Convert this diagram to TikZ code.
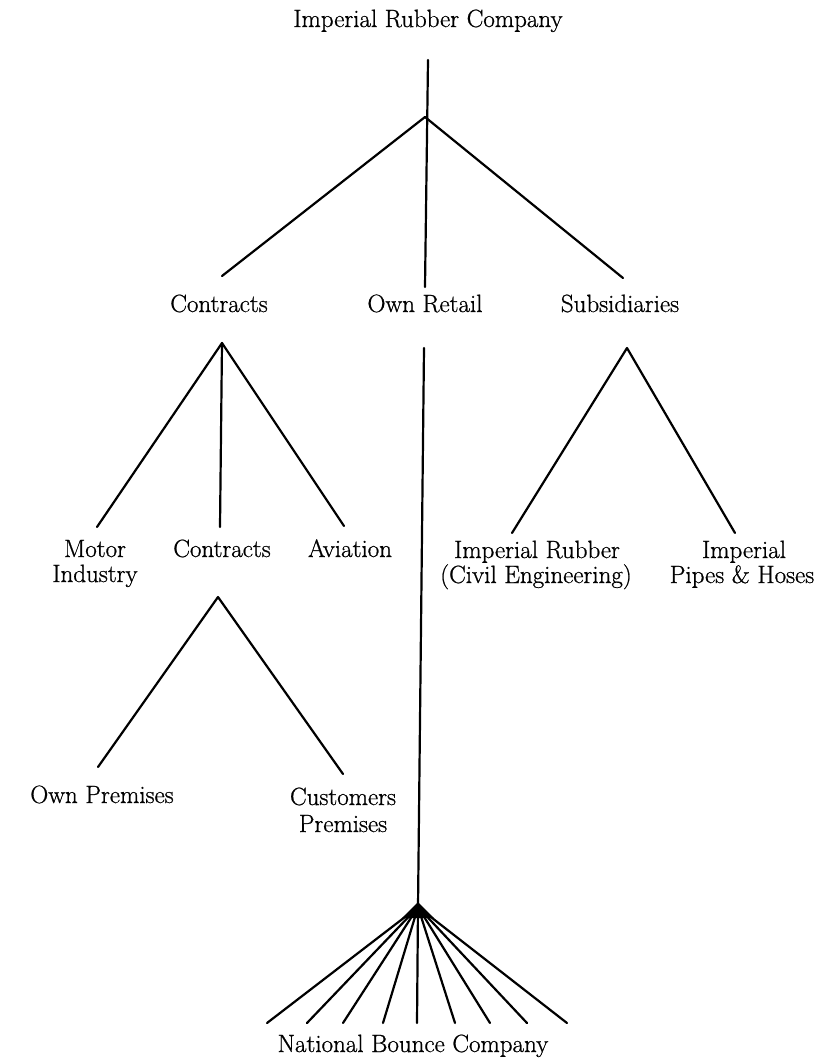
\documentclass[tikz,border=0pt]{standalone}
\usepackage{fontspec}
\newfontfamily\labelfont{Latin Modern Roman}[FakeBold=0.8]
\begin{document}
\begin{tikzpicture}[x=1pt,y=-1pt,
  lbl/.style={font=\labelfont\fontsize{25}{25}\selectfont, anchor=base, inner sep=0pt},
  branch/.style={line width=2.2pt, line cap=round, line join=round}]
\useasboundingbox (0,0) rectangle (836,1058);

% labels
\node[lbl] (irc) at (428,27) {Imperial Rubber Company};
\node[lbl] (contracts) at (219,312) {Contracts};
\node[lbl] (retail) at (425,312) {Own Retail};
\node[lbl] (subs) at (620,312) {Subsidiaries};
\node[lbl] (motor) at (95,557) {Motor};
\node[lbl] (motorB) at (95,582) {Industry};
\node[lbl] (contracts2) at (222,557) {Contracts};
\node[lbl] (aviation) at (350,557) {Aviation};
\node[lbl] (irce) at (537,558) {Imperial Rubber};
\node[lbl] (irceB) at (536,583) {(Civil Engineering)};
\node[lbl] (ipipes) at (744,558) {Imperial};
\node[lbl] (ipipesB) at (742,583) {Pipes \& Hoses};
\node[lbl] (ownprem) at (102,803) {Own Premises};
\node[lbl] (custprem) at (343,805) {Customers};
\node[lbl] (custpremB) at (343,832) {Premises};
\node[lbl] (nbc) at (413,1052) {National Bounce Company};

% branch points and line ends
\coordinate (top) at (428,60);
\coordinate (a0) at (425,117);
\coordinate (e0c) at (222,276);
\coordinate (e0r) at (425,287);
\coordinate (e0s) at (623,278);

\coordinate (aC) at (222,343);
\coordinate (eCm) at (97,527);
\coordinate (eCc) at (220,527);
\coordinate (eCa) at (344,526);

\coordinate (aS) at (627,348);
\coordinate (eSr) at (512,533);
\coordinate (eSp) at (735,533);

\coordinate (aP) at (218,597);
\coordinate (ePo) at (98,767);
\coordinate (ePc) at (343,774);

\coordinate (rTop) at (424,348);
\coordinate (aN) at (418,907);

% top level
\draw[branch] (top) -- (e0r);
\draw[branch] (e0c) -- (a0) -- (e0s);

% contracts
\draw[branch] (eCm) -- (aC) -- (eCa);
\draw[branch] (aC) -- (eCc);

% subsidiaries
\draw[branch] (eSr) -- (aS) -- (eSp);

% premises
\draw[branch] (ePo) -- (aP) -- (ePc);

% own retail down to the bounce company fan
\draw[branch] (rTop) -- (aN);
\fill (418,902) -- (402,918) -- (434,918) -- cycle;
\foreach \x/\n in {267/1,307/2,343/3,383/4,417/5,455/6,490/7,527/8,567/9}{
  \coordinate (f\n) at (\x,1023);
  \draw[branch] (aN) -- (f\n);
}
\end{tikzpicture}
\end{document}
